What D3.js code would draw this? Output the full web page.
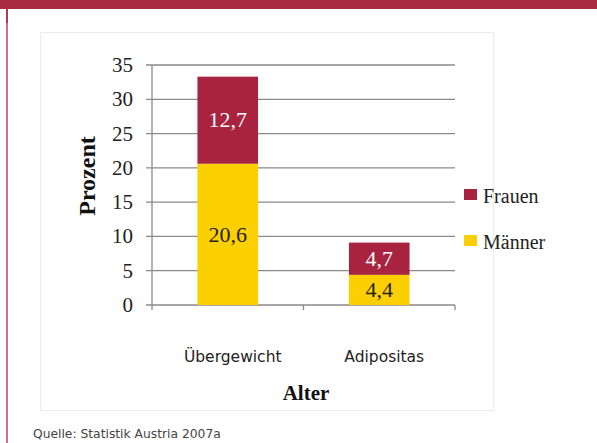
<!DOCTYPE html>
<html><head><meta charset="utf-8">
<script src="https://cdn.jsdelivr.net/npm/d3@7"></script>
<style>html,body{margin:0;padding:0;background:#fff;}svg{display:block;}</style>
</head><body>
<svg id="c" width="597" height="443"></svg>
<script>
const categories = ["Übergewicht", "Adipositas"];
const maenner = [20.6, 4.4];
const frauen = [12.7, 4.7];
const maennerLabels = ["20,6", "4,4"];
const frauenLabels = ["12,7", "4,7"];
const yTicks = [0, 5, 10, 15, 20, 25, 30, 35];
const seriesNames = ["Frauen", "Männer"];
const colors = {Frauen: "#a8233f", Männer: "#fccf00"};

const svg = d3.select("#c");
// page decoration
svg.append("rect").attr("x",0).attr("y",0).attr("width",597).attr("height",9).attr("fill","#a82a3f");
svg.append("rect").attr("x",6).attr("y",9).attr("width",2).attr("height",434).attr("fill","#cf6f7f");
svg.append("rect").attr("x",6).attr("y",9).attr("width",2).attr("height",14).attr("fill","#b03a50");
svg.append("rect").attr("x",40.5).attr("y",32.5).attr("width",453).attr("height",378).attr("fill","#fff").attr("stroke","#ececec");

const serif = "'Liberation Serif','Times New Roman',serif";
const x = d3.scaleBand().domain(categories).range([152, 455]).paddingInner(0.6).paddingOuter(0.3);
const xb = d3.scaleBand().domain(categories).range([152, 455]);
const y = d3.scaleLinear().domain([0, 35]).range([305, 65]);

// gridlines
svg.append("g").selectAll("line").data(yTicks).join("line")
  .attr("x1",146).attr("x2",455).attr("y1",d=>y(d)).attr("y2",d=>y(d))
  .attr("stroke","#8a8a8a").attr("stroke-width",1.3);
// y axis line
svg.append("line").attr("x1",152).attr("x2",152).attr("y1",y(35)).attr("y2",y(0)).attr("stroke","#8a8a8a").attr("stroke-width",1.3);
// y tick labels
svg.append("g").selectAll("text").data(yTicks).join("text")
  .attr("x",133).attr("y",d=>y(d)).attr("dy","0.33em").attr("text-anchor","end")
  .attr("font-family",serif).attr("font-size",21).attr("fill","#222").text(d=>d);
// x ticks at band boundaries
const xt = [xb.range()[0], ...categories.map(c=>xb(c)+xb.bandwidth())];
svg.append("g").selectAll("line").data(xt).join("line")
  .attr("x1",d=>d).attr("x2",d=>d).attr("y1",y(0)).attr("y2",y(0)+5).attr("stroke","#8a8a8a").attr("stroke-width",1.3);

// bars
const rows = categories.map((c,i)=>({cat:c, Männer:maenner[i], Frauen:frauen[i]}));
const stack = d3.stack().keys(["Männer","Frauen"])(rows);
const g = svg.append("g");
stack.forEach(s=>{
  g.selectAll(null).data(s).join("rect")
    .attr("x",d=>x(d.data.cat)).attr("width",x.bandwidth())
    .attr("y",d=>y(d[1])).attr("height",d=>y(d[0])-y(d[1]))
    .attr("fill",colors[s.key]);
});
// value labels
stack.forEach(s=>{
  const labs = s.key==="Frauen"?frauenLabels:maennerLabels;
  g.selectAll(null).data(s).join("text")
    .attr("x",d=>x(d.data.cat)+x.bandwidth()/2)
    .attr("y",d=>(y(d[0])+y(d[1]))/2).attr("dy","0.33em")
    .attr("text-anchor","middle").attr("font-family",serif).attr("font-size",22)
    .attr("fill",s.key==="Frauen"?"#fff":"#222")
    .text((d,i)=>labs[i]);
});

// category labels
svg.append("g").selectAll("text").data(categories).join("text")
  .attr("x",d=>xb(d)+xb.bandwidth()/2+5).attr("y",362).attr("text-anchor","middle")
  .attr("font-family","'DejaVu Sans',Verdana,sans-serif").attr("font-size",15.5).attr("fill","#222").text(d=>d);
// axis titles
svg.append("text").attr("x",306).attr("y",400).attr("text-anchor","middle")
  .attr("font-family",serif).attr("font-weight","bold").attr("font-size",21).attr("fill","#111").text("Alter");
svg.append("text").attr("transform","translate(95,176) rotate(-90)").attr("text-anchor","middle")
  .attr("font-family",serif).attr("font-weight","bold").attr("font-size",24).attr("fill","#111").text("Prozent");

// legend
const leg = svg.append("g");
seriesNames.forEach((n,i)=>{
  leg.append("rect").attr("x",464).attr("y",189+i*46).attr("width",13).attr("height",11).attr("fill",colors[n]);
  leg.append("text").attr("x",483).attr("y",203+i*46).attr("font-family",serif).attr("font-size",20).attr("fill","#222").text(n);
});

// source
svg.append("text").attr("x",33).attr("y",438).attr("font-family","'DejaVu Sans',Verdana,sans-serif").attr("font-size",12.3).attr("fill","#444").text("Quelle: Statistik Austria 2007a");
</script>
</body></html>
